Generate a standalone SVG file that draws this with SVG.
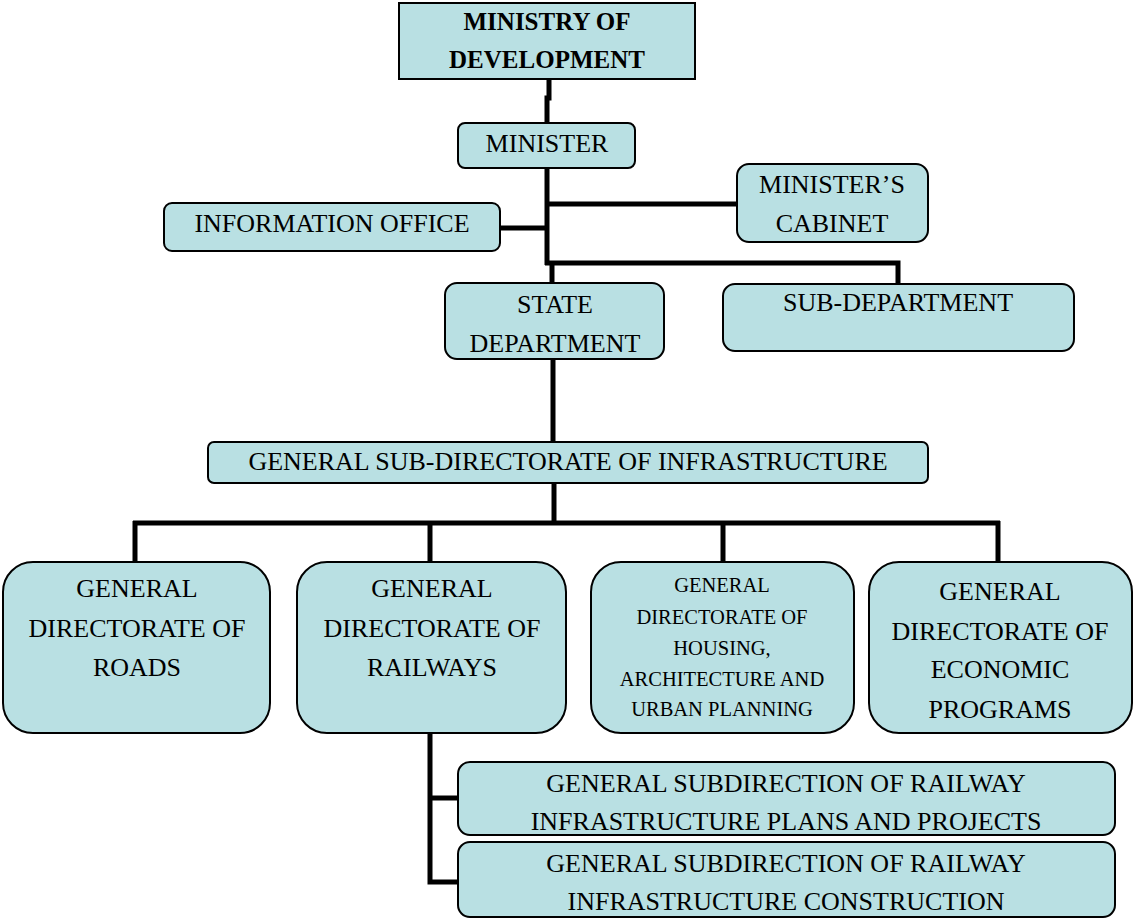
<svg xmlns="http://www.w3.org/2000/svg" width="1135" height="920" viewBox="0 0 1135 920">
<style>
.b{fill:#b9e0e3;stroke:#000;stroke-width:2}
.t{font-family:'Liberation Serif','Tinos','Times New Roman','DejaVu Serif',serif;font-size:26px;fill:#000;text-anchor:middle}
.s{font-size:20.5px}
.bold{font-weight:bold;font-size:25px}
.c{fill:none;stroke:#000;stroke-width:5}
</style>
<rect width="1135" height="920" fill="#fff"/>
<g id="connectors">
<polyline class="c" points="549,79 549,98 547,98 547,123"/>
<line class="c" x1="547" y1="168" x2="547" y2="265"/>
<line class="c" x1="547" y1="204" x2="737" y2="204"/>
<line class="c" x1="500" y1="228" x2="547" y2="228"/>
<polyline class="c" points="545,263 898,263 898,285"/>
<line class="c" x1="552" y1="261" x2="552" y2="284"/>
<line class="c" x1="553" y1="358" x2="553" y2="443"/>
<line class="c" x1="554" y1="483" x2="554" y2="524"/>
<line class="c" x1="133" y1="523" x2="1000" y2="523"/>
<line class="c" x1="135" y1="521" x2="135" y2="563"/>
<line class="c" x1="430" y1="521" x2="430" y2="563"/>
<line class="c" x1="723" y1="521" x2="723" y2="563"/>
<line class="c" x1="998" y1="521" x2="998" y2="563"/>
<polyline class="c" points="430,732 430,882 459,882"/>
<line class="c" x1="430" y1="798" x2="459" y2="798"/>
</g>
<g id="ministry">
<rect class="b" x="399" y="3" width="296" height="76"/>
<text class="t bold" x="547" y="30">MINISTRY OF</text>
<text class="t bold" x="547" y="68">DEVELOPMENT</text>
</g>
<g id="minister">
<rect class="b" x="458" y="123" width="177" height="45" rx="7"/>
<text class="t" x="547" y="152">MINISTER</text>
</g>
<g id="cabinet">
<rect class="b" x="737" y="164" width="191" height="78" rx="12"/>
<text class="t" x="832" y="193">MINISTER’S</text>
<text class="t" x="832" y="232">CABINET</text>
</g>
<g id="info">
<rect class="b" x="164" y="203" width="336" height="48" rx="8"/>
<text class="t" x="332" y="232">INFORMATION OFFICE</text>
</g>
<g id="state">
<rect class="b" x="445" y="283" width="219" height="76" rx="12"/>
<text class="t" x="555" y="313">STATE</text>
<text class="t" x="555" y="352">DEPARTMENT</text>
</g>
<g id="subdept">
<rect class="b" x="723" y="284" width="351" height="67" rx="12"/>
<text class="t" x="898" y="311">SUB-DEPARTMENT</text>
</g>
<g id="gsdi">
<rect class="b" x="208" y="442" width="720" height="41" rx="6"/>
<text class="t" x="568" y="470">GENERAL SUB-DIRECTORATE OF INFRASTRUCTURE</text>
</g>
<g id="roads">
<rect class="b" x="3" y="562" width="267" height="171" rx="30"/>
<text class="t" x="137" y="597">GENERAL</text>
<text class="t" x="137" y="637">DIRECTORATE OF</text>
<text class="t" x="137" y="676">ROADS</text>
</g>
<g id="railways">
<rect class="b" x="297" y="562" width="269" height="171" rx="30"/>
<text class="t" x="432" y="597">GENERAL</text>
<text class="t" x="432" y="637">DIRECTORATE OF</text>
<text class="t" x="432" y="676">RAILWAYS</text>
</g>
<g id="housing">
<rect class="b" x="591" y="562" width="263" height="171" rx="30"/>
<text class="t s" x="722" y="592">GENERAL</text>
<text class="t s" x="722" y="624">DIRECTORATE OF</text>
<text class="t s" x="722" y="655">HOUSING,</text>
<text class="t s" x="722" y="686">ARCHITECTURE AND</text>
<text class="t s" x="722" y="716">URBAN PLANNING</text>
</g>
<g id="economic">
<rect class="b" x="869" y="562" width="263" height="171" rx="30"/>
<text class="t" x="1000" y="600">GENERAL</text>
<text class="t" x="1000" y="640">DIRECTORATE OF</text>
<text class="t" x="1000" y="678">ECONOMIC</text>
<text class="t" x="1000" y="718">PROGRAMS</text>
</g>
<g id="plans">
<rect class="b" x="458" y="762" width="657" height="73" rx="12"/>
<text class="t" x="786" y="792">GENERAL SUBDIRECTION OF RAILWAY</text>
<text class="t" x="786" y="830">INFRASTRUCTURE PLANS AND PROJECTS</text>
</g>
<g id="construction">
<rect class="b" x="458" y="842" width="657" height="75" rx="12"/>
<text class="t" x="786" y="872">GENERAL SUBDIRECTION OF RAILWAY</text>
<text class="t" x="786" y="910">INFRASTRUCTURE CONSTRUCTION</text>
</g>
</svg>
